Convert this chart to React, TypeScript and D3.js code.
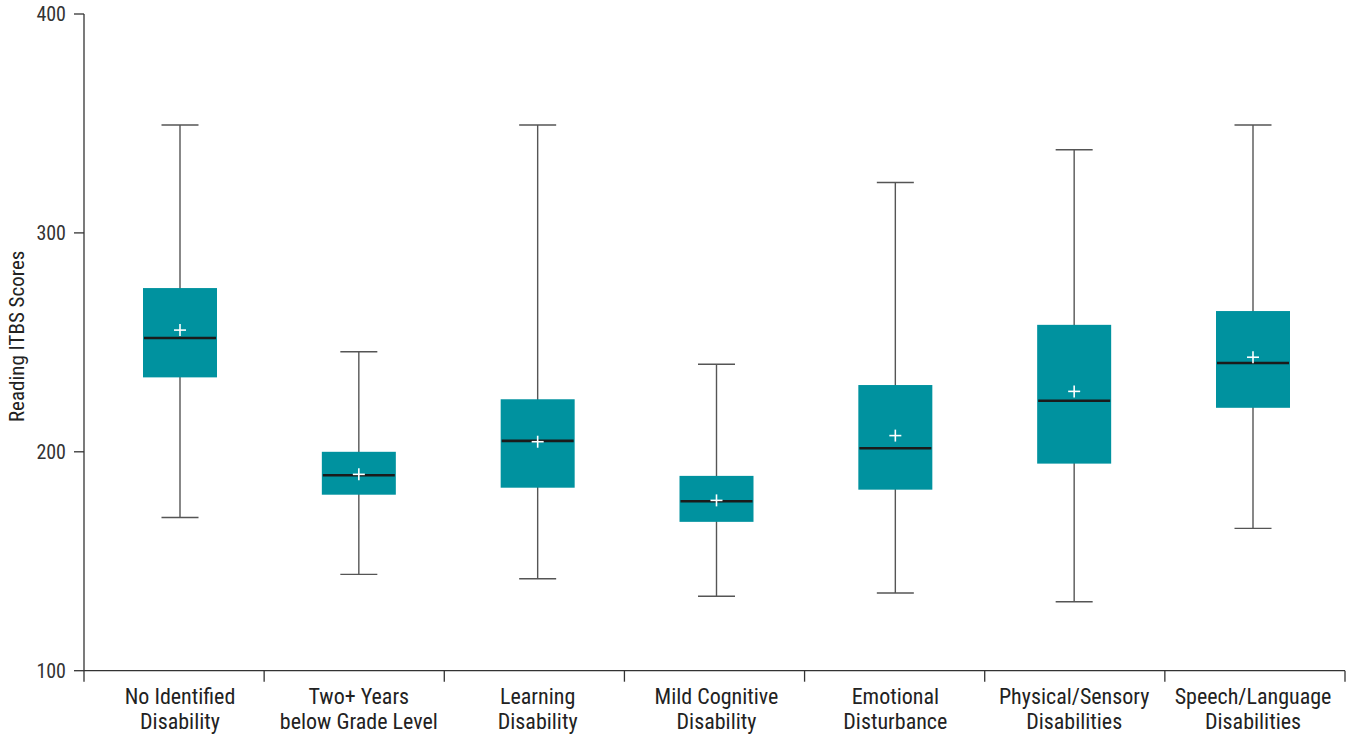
import React from "react";
import * as d3 from "d3";

const categories = [
  ["No Identified", "Disability"],
  ["Two+ Years", "below Grade Level"],
  ["Learning", "Disability"],
  ["Mild Cognitive", "Disability"],
  ["Emotional", "Disturbance"],
  ["Physical/Sensory", "Disabilities"],
  ["Speech/Language", "Disabilities"],
];
const whiskerLow = [170, 144, 142, 134, 135.5, 131.5, 165];
const q1 = [234, 180.4, 183.6, 168, 182.7, 194.6, 220.1];
const medians = [252, 189.3, 205, 177.4, 201.6, 223.3, 240.6];
const means = [255.6, 189.7, 204.6, 177.8, 207.4, 227.6, 243.2];
const q3 = [274.8, 200, 224, 189, 230.5, 258, 264.3];
const whiskerHigh = [349.3, 245.7, 349.3, 240, 323, 338, 349.3];
const yTicks = [100, 200, 300, 400];

const FONT = "'Liberation Sans Narrow', 'Roboto Condensed', 'Liberation Sans', Arial, sans-serif";

export default function App() {
  const W = 1349, H = 736;
  const keys = categories.map((c) => c.join(" "));
  const y = d3.scaleLinear().domain([100, 400]).range([670.7, 14]);
  const band = d3.scaleBand().domain(keys).range([84, 1345]);
  const pos = d3.scalePoint().domain(keys).range([180, 1253]);
  const boxW = 74;
  const capW = 37;
  const teal = "#00929F";
  const axisColor = "#333";
  const whiskerColor = "#555";
  const x0 = 84;
  const yBase = y(100);

  return (
    <svg width={W} height={H} style={{ position: "absolute", left: 0, top: 0, background: "#fff" }} fontFamily={FONT}>
      {/* y axis */}
      <line x1={x0} x2={x0} y1={y(400)} y2={yBase} stroke={axisColor} strokeWidth={1.3} />
      {yTicks.map((t) => (
        <g key={t}>
          <line x1={x0 - 10} x2={x0} y1={y(t)} y2={y(t)} stroke={axisColor} strokeWidth={1.3} />
          <text x={x0 - 18} y={y(t)} dy="0.35em" textAnchor="end" fontSize={20} fill="#333">
            {t}
          </text>
        </g>
      ))}
      <text
        transform={`translate(24, ${(y(400) + yBase) / 2 - 6}) rotate(-90)`}
        textAnchor="middle"
        fontSize={21}
        fill="#222"
      >
        Reading ITBS Scores
      </text>
      {/* x axis */}
      <line x1={x0} x2={1345} y1={yBase} y2={yBase} stroke={axisColor} strokeWidth={1.3} />
      {[...keys.map((k) => band(k) as number), 1345].map((xv, i) => (
        <line key={i} x1={xv} x2={xv} y1={yBase} y2={yBase + 11} stroke={axisColor} strokeWidth={1.3} />
      ))}
      {categories.map((c, i) => (
        <text key={i} x={pos(keys[i])} y={704} textAnchor="middle" fontSize={22} fill="#222">
          <tspan x={pos(keys[i])} dy={0}>{c[0]}</tspan>
          <tspan x={pos(keys[i])} dy={25}>{c[1]}</tspan>
        </text>
      ))}
      {/* boxes */}
      {keys.map((k, i) => {
        const cx = pos(k) as number;
        return (
          <g key={k}>
            <line x1={cx} x2={cx} y1={y(whiskerHigh[i])} y2={y(whiskerLow[i])} stroke={whiskerColor} strokeWidth={1.4} />
            <line x1={cx - capW / 2} x2={cx + capW / 2} y1={y(whiskerHigh[i])} y2={y(whiskerHigh[i])} stroke={whiskerColor} strokeWidth={1.4} />
            <line x1={cx - capW / 2} x2={cx + capW / 2} y1={y(whiskerLow[i])} y2={y(whiskerLow[i])} stroke={whiskerColor} strokeWidth={1.4} />
            <rect x={cx - boxW / 2} y={y(q3[i])} width={boxW} height={y(q1[i]) - y(q3[i])} fill={teal} />
            <line x1={cx - boxW / 2 + 1} x2={cx + boxW / 2 - 1} y1={y(medians[i])} y2={y(medians[i])} stroke="#1b1b1b" strokeWidth={2.6} />
            <line x1={cx - 6} x2={cx + 6} y1={y(means[i])} y2={y(means[i])} stroke="#fff" strokeWidth={1.6} />
            <line x1={cx} x2={cx} y1={y(means[i]) - 6} y2={y(means[i]) + 6} stroke="#fff" strokeWidth={1.6} />
          </g>
        );
      })}
    </svg>
  );
}
